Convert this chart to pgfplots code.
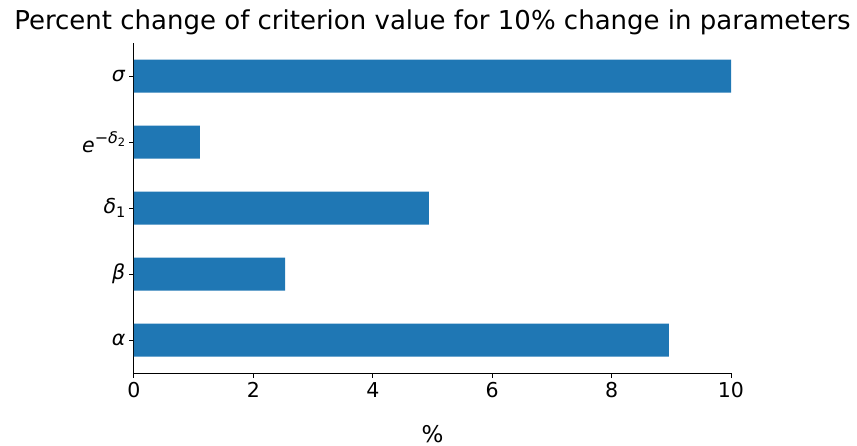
\documentclass[border=0pt]{standalone}
\usepackage{fontspec}
\setmainfont{DejaVu Sans}
\usepackage{pgfplots}
\pgfplotsset{compat=1.18}
\definecolor{mplblue}{HTML}{1F77B4}
\newcommand\lblfont{\fontsize{20.5}{24}\selectfont}
\newcommand\sub[1]{\raisebox{-0.22em}{\fontsize{14.5}{16}\selectfont #1}}
\begin{document}
\begin{tikzpicture}
\useasboundingbox (-134pt,-72pt) rectangle (723pt,373pt);
\clip (-134pt,-72pt) rectangle (723pt,373pt);
\begin{axis}[
  at={(0,0)}, anchor=south west,
  scale only axis, width=597pt, height=330pt,
  xbar, bar width=0.5,
  xmin=0, xmax=10,
  ymin=-0.5, ymax=4.5,
  xtick={0,2,...,10},
  ytick={0,1,2,3,4},
  yticklabels={{\textit{α}}, {\textit{β}}, {\textit{δ}\sub{1}},
    {\textit{e}\raisebox{0.45em}{\fontsize{16}{18}\selectfont −\textit{δ}\raisebox{-0.2em}{\fontsize{11.5}{13}\selectfont 2}}},
    {\textit{σ}}},
  axis lines*=left,
  axis line style={line width=1pt},
  tick align=outside,
  major tick length=4.5pt,
  tick style={black, line width=1pt},
  /pgf/number format/assume math mode=true,
  tick label style={font=\lblfont},
  xticklabel style={anchor=north, inner sep=0pt, yshift=-5pt},
  yticklabel style={anchor=east, inner sep=0pt, xshift=-4pt},
  title={Percent change of criterion value for 10\% change in parameters},
  title style={at={(0.5,1)}, anchor=base, yshift=8pt, inner sep=0pt, font=\fontsize{26}{30}\selectfont},
  xlabel={\%},
  xlabel style={at={(0.5,0)}, anchor=base, yshift=-69pt, inner sep=0pt, font=\fontsize{23}{26}\selectfont},
]
\addplot[fill=mplblue, draw=none] coordinates {
  (8.96,0) (2.53,1) (4.94,2) (1.105,3) (10.0,4)};
\end{axis}
\end{tikzpicture}
\end{document}
